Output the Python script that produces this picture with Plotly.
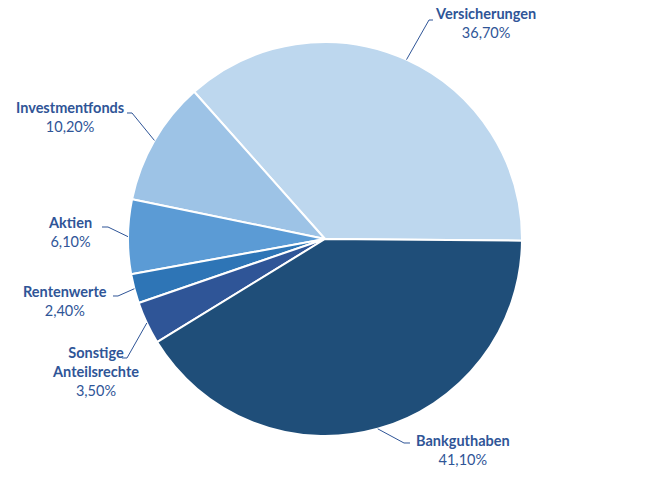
import math
import plotly.graph_objects as go

# ---- data ----
categories = ["Versicherungen", "Investmentfonds", "Aktien", "Rentenwerte",
              "Sonstige<br>Anteilsrechte", "Bankguthaben"]
values = [36.7, 10.2, 6.1, 2.4, 3.5, 41.1]
colors = ["#BDD7EE", "#9DC3E6", "#5B9BD5", "#2E75B6", "#2F5597", "#1F4E79"]

# ---- layout constants (pixels) ----
W, H = 649, 477
CX, CY, R = 325, 239, 197
START = 90.5  # clockwise-from-12-o'clock angle where first slice begins
TXT = "#2F5597"

# label text centre (x, y of first line) and leader start point
label_pos = [
    (485, 13, 433, 20, 429),
    (70, 107, 127, 113, 132),
    (70, 222, 102, 227, 108),
    (65, 291, 113, 296, 118),
    (95, 352, 122, 358, 127),
    (463, 440, 410, 443, 404),
]

def px(x):
    return x / W

def py(y):
    return 1 - y / H

total = sum(values)
rotation = START - values[0] / total * 360

fig = go.Figure(go.Pie(
    labels=categories, values=values, sort=False, direction="counterclockwise",
    rotation=rotation, textinfo="none", hoverinfo="label+percent",
    marker=dict(colors=colors, line=dict(color="white", width=2)),
    domain=dict(x=[px(CX - R), px(CX + R)], y=[py(CY + R), py(CY - R)]),
    showlegend=False,
))

start = 90 - START  # math angle (deg, ccw from 3 o'clock)
cum = 0
annotations = []
shapes = []
for cat, v, (lx, ly, sx, sy, hx) in zip(categories, values, label_pos):
    mid = start + (cum + v / 2) / total * 360
    cum += v
    ex = CX + R * math.cos(math.radians(mid))
    ey = CY - R * math.sin(math.radians(mid))
    name = "<br>".join("<b>%s</b>" % p for p in cat.split("<br>"))
    pct = ("%.2f%%" % v).replace(".", ",")
    annotations.append(dict(
        x=px(lx), y=py(ly - 10), xref="paper", yref="paper", xanchor="center", yanchor="top",
        text=name + "<br>" + pct, showarrow=False, align="center",
        font=dict(family="Lato, Carlito, Calibri, sans-serif", size=14.5, color=TXT),
    ))
    shapes.append(dict(
        type="path", xref="paper", yref="paper",
        path="M %f %f L %f %f L %f %f" % (px(sx), py(sy), px(hx), py(sy), px(ex), py(ey)),
        line=dict(color=TXT, width=1),
    ))

fig.update_layout(
    width=W, height=H, margin=dict(l=0, r=0, t=0, b=0),
    paper_bgcolor="white", plot_bgcolor="white",
    annotations=annotations, shapes=shapes,
)

fig.write_html("out.html")
